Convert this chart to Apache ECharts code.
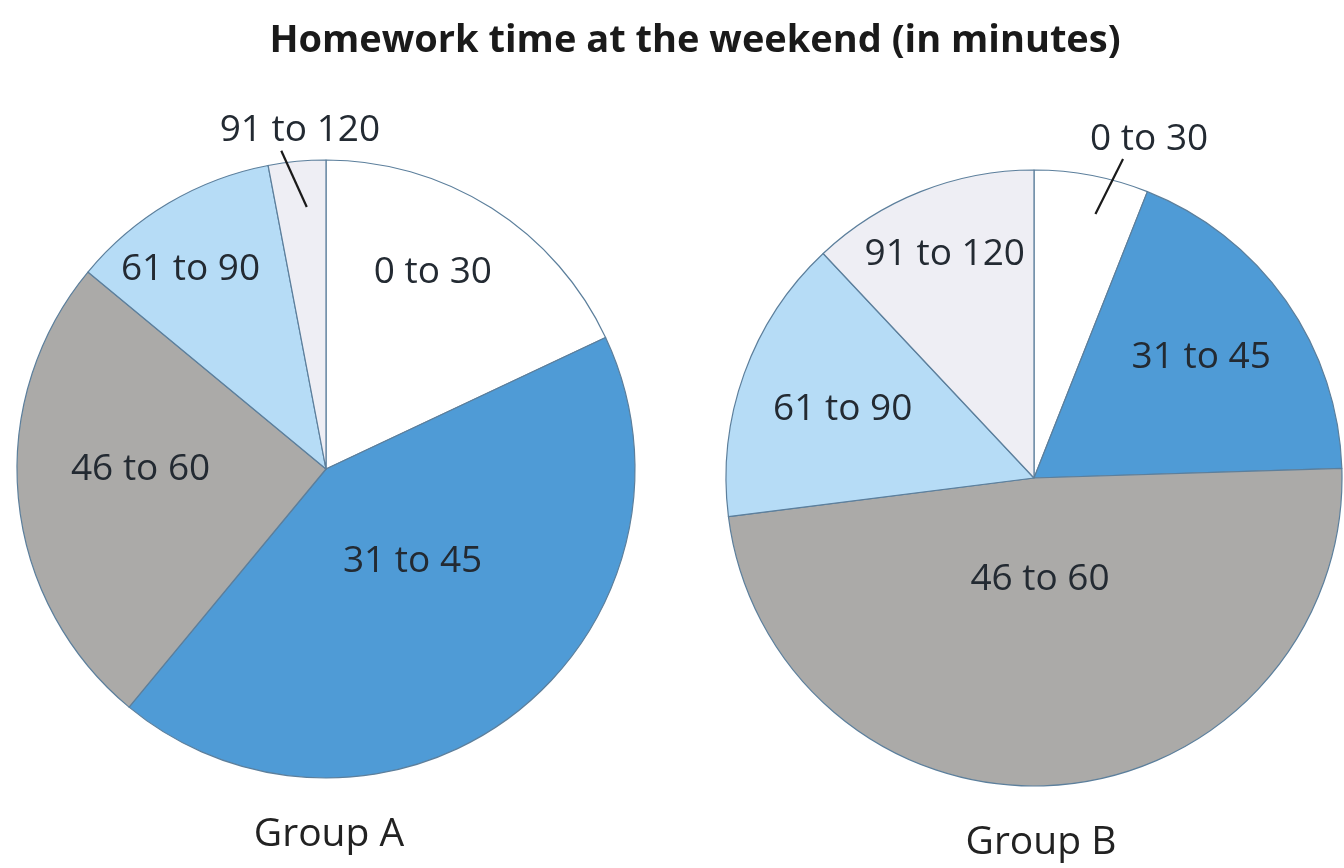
<!DOCTYPE html>
<html>
<head>
<meta charset="utf-8">
<script src="https://cdn.jsdelivr.net/npm/echarts@6/dist/echarts.min.js"></script>
<style>
  html, body { margin: 0; padding: 0; background: #ffffff; }
  #chart { width: 1344px; height: 868px; }
</style>
</head>
<body>
<div id="chart"></div>
<script>
// ---- data ----
const chartTitle = 'Homework time at the weekend (in minutes)';
const categories = ['0 to 30', '31 to 45', '46 to 60', '61 to 90', '91 to 120'];
const groupNames = ['Group A', 'Group B'];
const groupAValues = [18, 43, 25, 11, 3];
const groupBValues = [6, 18.5, 48.5, 15, 12];

// ---- styles ----
const sliceColors = ['#ffffff', '#4f9bd6', '#abaaa8', '#b6dcf6', '#eeeef4'];
const pieCenters = [[326, 469], [1034, 478]];
const pieRadii = [309, 308];
// label placement: [radius fraction, angle offset from slice mid-angle (deg)]
const labelPlace = [
  [[0.725, -3.9], [0.41, -5.3], [0.60, 5.4], [0.78, -3.6], [1.10, 1.0]],
  [[1.16, 8.0], [0.67, -0.8], [0.33, 1.1], [0.66, 0.0], [0.78, -0.2]]
];
// leader lines for outside labels: [inner frac, inner offset, outer frac, outer offset]
const leaderLines = [
  { 4: [0.85, 1.2, 1.04, -2.6] },
  { 0: [0.88, 2.3, 1.075, 4.8] }
];

function midAngles(values) {
  const total = values.reduce((a, b) => a + b, 0);
  let acc = 0;
  return values.map(v => {
    const m = (acc + v / 2) / total * 360;
    acc += v;
    return m;
  });
}
function polar(seriesIdx, frac, angDeg) {
  const c = pieCenters[seriesIdx], r = pieRadii[seriesIdx];
  const a = angDeg * Math.PI / 180;
  return [c[0] + frac * r * Math.sin(a), c[1] - frac * r * Math.cos(a)];
}

const allValues = [groupAValues, groupBValues];
const FONT = '"Open Sans", "Noto Sans", sans-serif';

function buildSeries(sIdx) {
  const values = allValues[sIdx];
  const mids = midAngles(values);
  return {
    type: 'pie',
    name: groupNames[sIdx],
    center: pieCenters[sIdx],
    radius: [0, pieRadii[sIdx]],
    startAngle: 90,
    clockwise: true,
    avoidLabelOverlap: false,
    silent: true,
    animation: false,
    itemStyle: { borderColor: '#5c7f9c', borderWidth: 1.2 },
    label: {
      show: true,
      position: 'inside',
      fontFamily: FONT,
      fontSize: 37,
      color: '#232a32',
      formatter: '{b}'
    },
    labelLine: { show: false },
    data: categories.map((name, i) => ({
      name: name,
      value: values[i],
      itemStyle: { color: sliceColors[i] }
    })),
    labelLayout: function (params) {
      const i = params.dataIndex;
      const p = labelPlace[sIdx][i];
      const pos = polar(sIdx, p[0], mids[i] + p[1]);
      return { x: pos[0], y: pos[1], align: 'center', verticalAlign: 'middle' };
    }
  };
}

function buildLeaderGraphics() {
  const out = [];
  allValues.forEach((values, sIdx) => {
    const mids = midAngles(values);
    Object.keys(leaderLines[sIdx]).forEach(k => {
      const i = +k;
      const ll = leaderLines[sIdx][i];
      const a = polar(sIdx, ll[0], mids[i] + ll[1]);
      const b = polar(sIdx, ll[2], mids[i] + ll[3]);
      out.push({
        type: 'line',
        silent: true,
        z: 100,
        shape: { x1: a[0], y1: a[1], x2: b[0], y2: b[1] },
        style: { stroke: '#1a1a1a', lineWidth: 2.2 }
      });
    });
  });
  return out;
}

const chart = echarts.init(document.getElementById('chart'), null, { renderer: 'canvas' });
chart.setOption({
  backgroundColor: '#ffffff',
  animation: false,
  title: [
    { text: chartTitle, left: 690, top: 17, textAlign: 'center',
      textStyle: { fontFamily: FONT, fontSize: 38, fontWeight: 'bold', color: '#1a1a1a' } },
    { text: groupNames[0], left: 324, top: 810, textAlign: 'center',
      textStyle: { fontFamily: FONT, fontSize: 39, fontWeight: 'normal', color: '#222222' } },
    { text: groupNames[1], left: 1036, top: 818, textAlign: 'center',
      textStyle: { fontFamily: FONT, fontSize: 39, fontWeight: 'normal', color: '#222222' } }
  ],
  graphic: buildLeaderGraphics(),
  series: [buildSeries(0), buildSeries(1)]
});
</script>
</body>
</html>
